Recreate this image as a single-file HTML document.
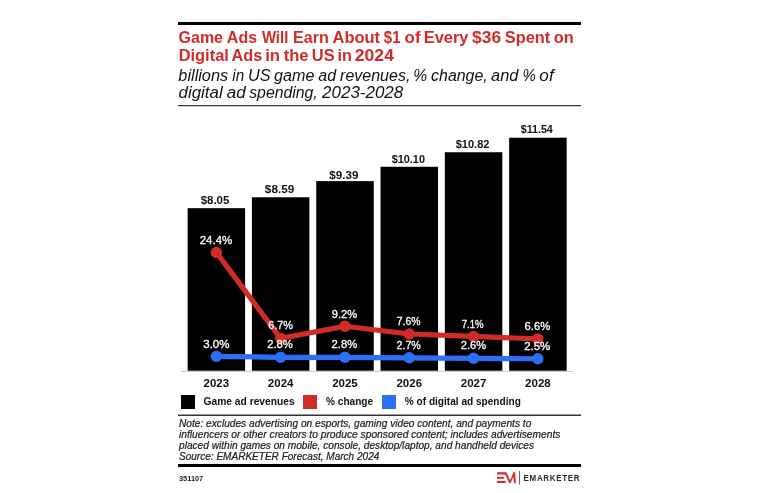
<!DOCTYPE html>
<html><head><meta charset="utf-8"><style>
html,body{margin:0;padding:0;background:#fff;width:758px;height:493px;overflow:hidden}
svg{display:block;will-change:transform}
text{font-family:"Liberation Sans", sans-serif}
</style></head><body>
<svg width="758" height="493" viewBox="0 0 758 493">
<rect width="758" height="493" fill="#fff"/>
<rect x="178" y="22" width="403" height="3" fill="#000"/>
<text x="178.58" y="42.9" font-size="16" font-weight="bold" fill="#d12b27" textLength="44.42" lengthAdjust="spacingAndGlyphs">Game</text>
<text x="226.82" y="42.9" font-size="16" font-weight="bold" fill="#d12b27" textLength="30.29" lengthAdjust="spacingAndGlyphs">Ads</text>
<text x="261.9" y="42.9" font-size="16" font-weight="bold" fill="#d12b27" textLength="26.39" lengthAdjust="spacingAndGlyphs">Will</text>
<text x="292.99" y="42.9" font-size="16" font-weight="bold" fill="#d12b27" textLength="35.76" lengthAdjust="spacingAndGlyphs">Earn</text>
<text x="332.51" y="42.9" font-size="16" font-weight="bold" fill="#d12b27" textLength="47.6" lengthAdjust="spacingAndGlyphs">About</text>
<text x="383.87" y="42.9" font-size="16" font-weight="bold" fill="#d12b27" textLength="16.63" lengthAdjust="spacingAndGlyphs">$1</text>
<text x="404.64" y="42.9" font-size="16" font-weight="bold" fill="#d12b27" textLength="15.94" lengthAdjust="spacingAndGlyphs">of</text>
<text x="423.77" y="42.9" font-size="16" font-weight="bold" fill="#d12b27" textLength="44.72" lengthAdjust="spacingAndGlyphs">Every</text>
<text x="472.13" y="42.9" font-size="16" font-weight="bold" fill="#d12b27" textLength="28.9" lengthAdjust="spacingAndGlyphs">$36</text>
<text x="504.79" y="42.9" font-size="16" font-weight="bold" fill="#d12b27" textLength="45.52" lengthAdjust="spacingAndGlyphs">Spent</text>
<text x="553.76" y="42.9" font-size="16" font-weight="bold" fill="#d12b27" textLength="19.98" lengthAdjust="spacingAndGlyphs">on</text>
<text x="178.67" y="61.1" font-size="16" font-weight="bold" fill="#d12b27" textLength="50.2" lengthAdjust="spacingAndGlyphs">Digital</text>
<text x="231.52" y="61.1" font-size="16" font-weight="bold" fill="#d12b27" textLength="30.8" lengthAdjust="spacingAndGlyphs">Ads</text>
<text x="265.22" y="61.1" font-size="16" font-weight="bold" fill="#d12b27" textLength="14.89" lengthAdjust="spacingAndGlyphs">in</text>
<text x="283.67" y="61.1" font-size="16" font-weight="bold" fill="#d12b27" textLength="24.95" lengthAdjust="spacingAndGlyphs">the</text>
<text x="311.88" y="61.1" font-size="16" font-weight="bold" fill="#d12b27" textLength="22.75" lengthAdjust="spacingAndGlyphs">US</text>
<text x="337.46" y="61.1" font-size="16" font-weight="bold" fill="#d12b27" textLength="14.42" lengthAdjust="spacingAndGlyphs">in</text>
<text x="354.85" y="61.1" font-size="16" font-weight="bold" fill="#d12b27" textLength="39.05" lengthAdjust="spacingAndGlyphs">2024</text>
<text x="178.35" y="80.5" font-size="16" font-style="italic" fill="#111" textLength="49.78" lengthAdjust="spacingAndGlyphs">billions</text>
<text x="232.26" y="80.5" font-size="16" font-style="italic" fill="#111" textLength="11.91" lengthAdjust="spacingAndGlyphs">in</text>
<text x="248.06" y="80.5" font-size="16" font-style="italic" fill="#111" textLength="22.47" lengthAdjust="spacingAndGlyphs">US</text>
<text x="274.0" y="80.5" font-size="16" font-style="italic" fill="#111" textLength="40.36" lengthAdjust="spacingAndGlyphs">game</text>
<text x="318.32" y="80.5" font-size="16" font-style="italic" fill="#111" textLength="17.82" lengthAdjust="spacingAndGlyphs">ad</text>
<text x="340.05" y="80.5" font-size="16" font-style="italic" fill="#111" textLength="70.34" lengthAdjust="spacingAndGlyphs">revenues,</text>
<text x="413.2" y="80.5" font-size="16" font-style="italic" fill="#111" textLength="13.92" lengthAdjust="spacingAndGlyphs">%</text>
<text x="431.1" y="80.5" font-size="16" font-style="italic" fill="#111" textLength="56.6" lengthAdjust="spacingAndGlyphs">change,</text>
<text x="491.12" y="80.5" font-size="16" font-style="italic" fill="#111" textLength="27.25" lengthAdjust="spacingAndGlyphs">and</text>
<text x="522.45" y="80.5" font-size="16" font-style="italic" fill="#111" textLength="13.34" lengthAdjust="spacingAndGlyphs">%</text>
<text x="539.36" y="80.5" font-size="16" font-style="italic" fill="#111" textLength="14.33" lengthAdjust="spacingAndGlyphs">of</text>
<text x="178.47" y="98" font-size="16" font-style="italic" fill="#111" textLength="44.2" lengthAdjust="spacingAndGlyphs">digital</text>
<text x="226.8" y="98" font-size="16" font-style="italic" fill="#111" textLength="18.92" lengthAdjust="spacingAndGlyphs">ad</text>
<text x="249.2" y="98" font-size="16" font-style="italic" fill="#111" textLength="68.57" lengthAdjust="spacingAndGlyphs">spending,</text>
<text x="322.13" y="98" font-size="16" font-style="italic" fill="#111" textLength="81.02" lengthAdjust="spacingAndGlyphs">2023-2028</text>
<rect x="178" y="105" width="403" height="1.2" fill="#333"/>
<rect x="187.60" y="208.17" width="57.5" height="162.53" fill="#000"/>
<text x="216.35" y="386.6" font-size="11.5" font-weight="bold" fill="#111" text-anchor="middle">2023</text>
<rect x="251.91" y="197.27" width="57.5" height="173.43" fill="#000"/>
<text x="280.66" y="386.6" font-size="11.5" font-weight="bold" fill="#111" text-anchor="middle">2024</text>
<rect x="316.22" y="181.12" width="57.5" height="189.58" fill="#000"/>
<text x="344.97" y="386.6" font-size="11.5" font-weight="bold" fill="#111" text-anchor="middle">2025</text>
<rect x="380.53" y="166.78" width="57.5" height="203.92" fill="#000"/>
<text x="409.28" y="386.6" font-size="11.5" font-weight="bold" fill="#111" text-anchor="middle">2026</text>
<rect x="444.84" y="152.24" width="57.5" height="218.46" fill="#000"/>
<text x="473.59" y="386.6" font-size="11.5" font-weight="bold" fill="#111" text-anchor="middle">2027</text>
<rect x="509.15" y="137.71" width="57.5" height="232.99" fill="#000"/>
<text x="537.90" y="386.6" font-size="11.5" font-weight="bold" fill="#111" text-anchor="middle">2028</text>
<text x="200.68" y="203.70000000000002" font-size="11.5" font-weight="bold" fill="#111" textLength="28.71" lengthAdjust="spacingAndGlyphs">$8.05</text>
<text x="264.87" y="192.6" font-size="11.5" font-weight="bold" fill="#111" textLength="29.34" lengthAdjust="spacingAndGlyphs">$8.59</text>
<text x="329.37" y="178.70000000000002" font-size="11.5" font-weight="bold" fill="#111" textLength="29.04" lengthAdjust="spacingAndGlyphs">$9.39</text>
<text x="391.68" y="162.6" font-size="11.5" font-weight="bold" fill="#111" textLength="33.33" lengthAdjust="spacingAndGlyphs">$10.10</text>
<text x="455.68" y="147.6" font-size="11.5" font-weight="bold" fill="#111" textLength="33.84" lengthAdjust="spacingAndGlyphs">$10.82</text>
<text x="520.68" y="133.4" font-size="11.5" font-weight="bold" fill="#111" textLength="32.16" lengthAdjust="spacingAndGlyphs">$11.54</text>
<rect x="181" y="371" width="392" height="1" fill="#ccc"/>
<polyline points="216.35,356.33 280.66,357.31 344.97,357.31 409.28,357.79 473.59,358.28 537.90,358.76" fill="none" stroke="#2d6ef6" stroke-width="5.2" stroke-linejoin="round"/>
<polyline points="216.35,252.44 280.66,338.37 344.97,326.23 409.28,334.00 473.59,336.43 537.90,338.86" fill="none" stroke="#d12b27" stroke-width="5.2" stroke-linejoin="round"/>
<circle cx="216.35" cy="356.33" r="5.7" fill="#2d6ef6"/>
<circle cx="216.35" cy="252.44" r="5.7" fill="#d12b27"/>
<circle cx="280.66" cy="357.31" r="5.7" fill="#2d6ef6"/>
<circle cx="280.66" cy="338.37" r="5.7" fill="#d12b27"/>
<circle cx="344.97" cy="357.31" r="5.7" fill="#2d6ef6"/>
<circle cx="344.97" cy="326.23" r="5.7" fill="#d12b27"/>
<circle cx="409.28" cy="357.79" r="5.7" fill="#2d6ef6"/>
<circle cx="409.28" cy="334.00" r="5.7" fill="#d12b27"/>
<circle cx="473.59" cy="358.28" r="5.7" fill="#2d6ef6"/>
<circle cx="473.59" cy="336.43" r="5.7" fill="#d12b27"/>
<circle cx="537.90" cy="358.76" r="5.7" fill="#2d6ef6"/>
<circle cx="537.90" cy="338.86" r="5.7" fill="#d12b27"/>
<text x="199.69" y="243.70000000000002" font-size="11.2" fill="#fff" stroke="#fff" stroke-width="0.3" textLength="32.58" lengthAdjust="spacingAndGlyphs">24.4%</text>
<text x="268.22" y="329.29999999999995" font-size="11.2" fill="#fff" stroke="#fff" stroke-width="0.3" textLength="24.65" lengthAdjust="spacingAndGlyphs">6.7%</text>
<text x="331.8" y="317.79999999999995" font-size="11.2" fill="#fff" stroke="#fff" stroke-width="0.3" textLength="25.37" lengthAdjust="spacingAndGlyphs">9.2%</text>
<text x="396.82" y="324.9" font-size="11.2" fill="#fff" stroke="#fff" stroke-width="0.3" textLength="23.63" lengthAdjust="spacingAndGlyphs">7.6%</text>
<text x="461.76" y="327.79999999999995" font-size="11.2" fill="#fff" stroke="#fff" stroke-width="0.3" textLength="21.86" lengthAdjust="spacingAndGlyphs">7.1%</text>
<text x="524.6" y="330.29999999999995" font-size="11.2" fill="#fff" stroke="#fff" stroke-width="0.3" textLength="25.68" lengthAdjust="spacingAndGlyphs">6.6%</text>
<text x="203.29" y="347.7" font-size="11.2" fill="#fff" stroke="#fff" stroke-width="0.3" textLength="26.1" lengthAdjust="spacingAndGlyphs">3.0%</text>
<text x="267.2" y="348.29999999999995" font-size="11.2" fill="#fff" stroke="#fff" stroke-width="0.3" textLength="25.68" lengthAdjust="spacingAndGlyphs">2.8%</text>
<text x="331.5" y="347.79999999999995" font-size="11.2" fill="#fff" stroke="#fff" stroke-width="0.3" textLength="25.68" lengthAdjust="spacingAndGlyphs">2.8%</text>
<text x="396.52" y="348.79999999999995" font-size="11.2" fill="#fff" stroke="#fff" stroke-width="0.3" textLength="24.34" lengthAdjust="spacingAndGlyphs">2.7%</text>
<text x="460.7" y="349.0" font-size="11.2" fill="#fff" stroke="#fff" stroke-width="0.3" textLength="25.37" lengthAdjust="spacingAndGlyphs">2.6%</text>
<text x="524.19" y="349.79999999999995" font-size="11.2" fill="#fff" stroke="#fff" stroke-width="0.3" textLength="26.1" lengthAdjust="spacingAndGlyphs">2.5%</text>
<rect x="181" y="395" width="14" height="14" fill="#000"/>
<text x="203.5" y="405.3" font-size="11.8" fill="#111" font-weight="bold" textLength="91.2" lengthAdjust="spacingAndGlyphs">Game ad revenues</text>
<rect x="303" y="395" width="14" height="14" fill="#d12b27"/>
<text x="326" y="405.3" font-size="11.8" fill="#111" font-weight="bold" textLength="47.1" lengthAdjust="spacingAndGlyphs">% change</text>
<rect x="382" y="395" width="14" height="14" fill="#2d6ef6"/>
<text x="404.8" y="405.3" font-size="11.8" fill="#111" font-weight="bold" textLength="116" lengthAdjust="spacingAndGlyphs">% of digital ad spending</text>
<rect x="178" y="414.5" width="403" height="1.5" fill="#333"/>
<text x="179" y="427.0" font-size="10.1" font-style="italic" fill="#222" stroke="#222" stroke-width="0.22" textLength="352.3" lengthAdjust="spacingAndGlyphs">Note: excludes advertising on esports, gaming video content, and payments to</text>
<text x="179" y="438.2" font-size="10.1" font-style="italic" fill="#222" stroke="#222" stroke-width="0.22" textLength="381.4" lengthAdjust="spacingAndGlyphs">influencers or other creators to produce sponsored content; includes advertisements</text>
<text x="179" y="448.7" font-size="10.1" font-style="italic" fill="#222" stroke="#222" stroke-width="0.22" textLength="355" lengthAdjust="spacingAndGlyphs">placed within games on mobile, console, desktop/laptop, and handheld devices</text>
<text x="179" y="459.7" font-size="10.1" font-style="italic" fill="#222" stroke="#222" stroke-width="0.22" textLength="200.3" lengthAdjust="spacingAndGlyphs">Source: EMARKETER Forecast, March 2024</text>
<rect x="178" y="464" width="403" height="3" fill="#000"/>
<text x="179" y="480.9" font-size="8" font-weight="bold" fill="#222" textLength="24.2" lengthAdjust="spacingAndGlyphs">351107</text>
<g fill="#d12b27"><rect x="497" y="476.8" width="6.9" height="2"/><rect x="497" y="480.9" width="8.5" height="2.1"/></g>
<polygon points="497,472.3 506.4,472.3 510.1,480.2 513.5,472.3 515.1,472.3 515.9,482.9 513.9,482.9 513.4,476.6 510.7,482.9 509.2,482.9 505.3,474.5 497,474.5" fill="#d12b27"/>
<rect x="519" y="471" width="1" height="13.5" fill="#666"/>
<text transform="translate(523.6,481.1) scale(0.87,1)" x="0" y="0" font-size="9.2" font-weight="bold" fill="#2a2a2a" letter-spacing="0.75">EMARKETER</text>
</svg>
</body></html>
